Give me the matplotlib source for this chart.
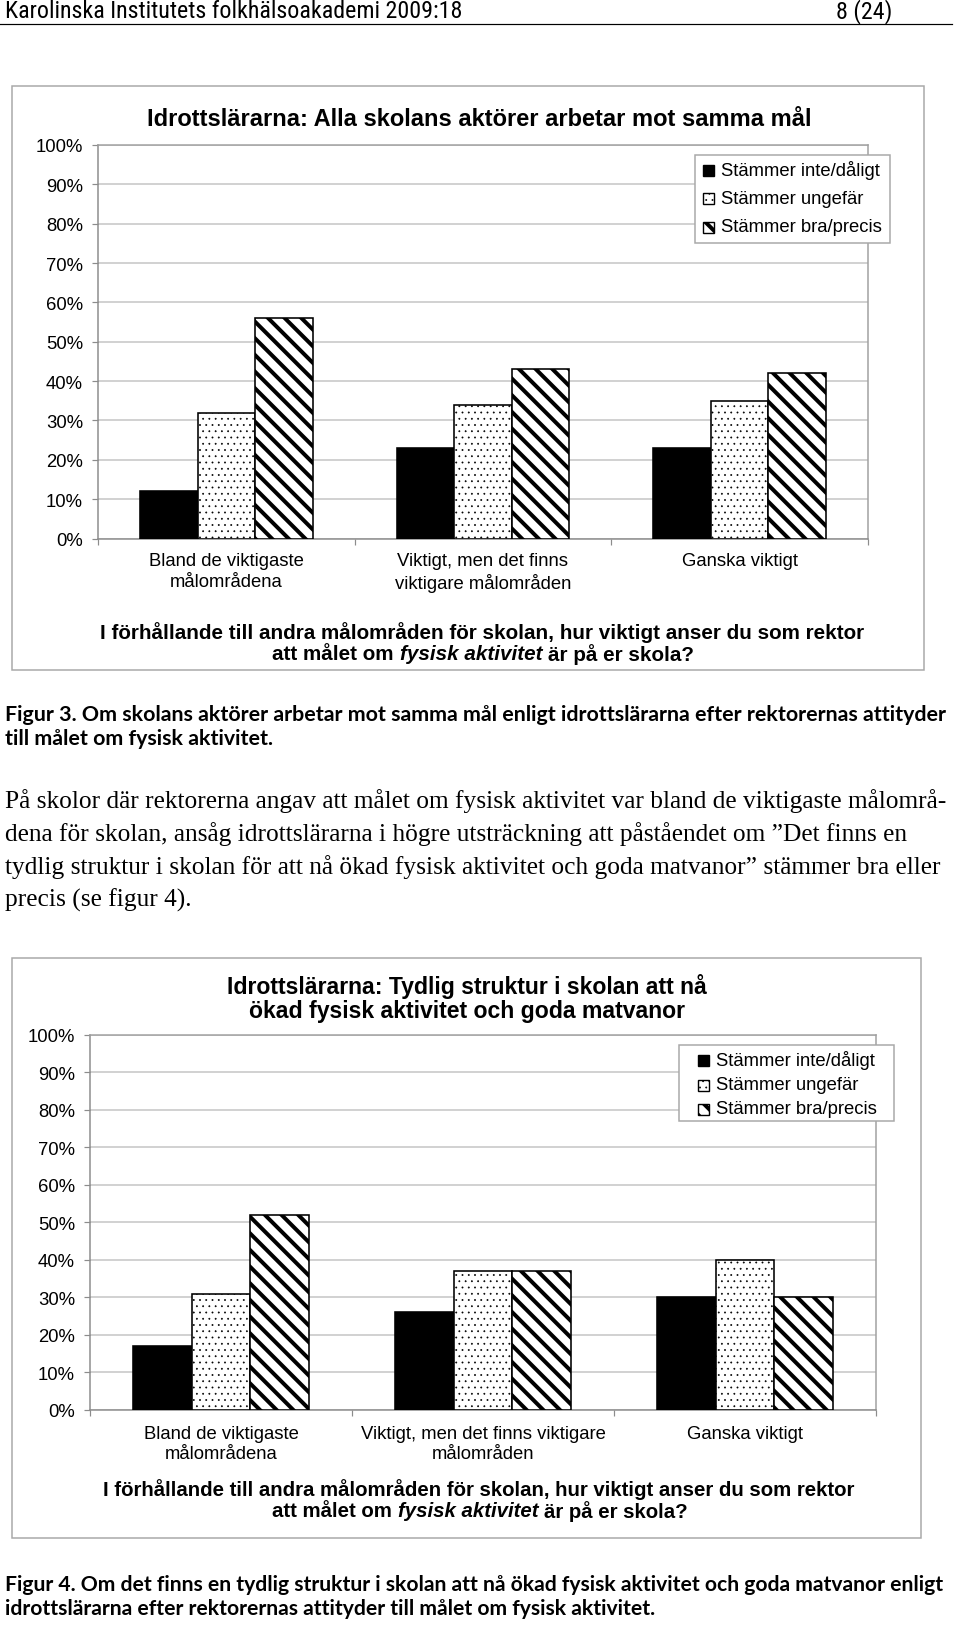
import matplotlib
matplotlib.use("Agg")
import matplotlib.pyplot as plt
from matplotlib import font_manager as fm
from matplotlib.patches import Rectangle
from matplotlib.lines import Line2D
import numpy as np

# ---------------- data ----------------
categories_fig3 = ["Bland de viktigaste\nmålområdena",
                   "Viktigt, men det finns\nviktigare målområden",
                   "Ganska viktigt"]
categories_fig4 = ["Bland de viktigaste\nmålområdena",
                   "Viktigt, men det finns viktigare\nmålområden",
                   "Ganska viktigt"]
series_names = ["Stämmer inte/dåligt", "Stämmer ungefär", "Stämmer bra/precis"]

fig3_inte = [12, 23, 23]
fig3_ungefar = [32, 34, 35]
fig3_bra = [56, 43, 42]

fig4_inte = [17, 26, 30]
fig4_ungefar = [31, 37, 40]
fig4_bra = [52, 37, 30]

ytick_values = [0, 10, 20, 30, 40, 50, 60, 70, 80, 90, 100]
ytick_labels = [f"{v}%" for v in ytick_values]

title_fig3 = "Idrottslärarna: Alla skolans aktörer arbetar mot samma mål"
title_fig4 = ["Idrottslärarna: Tydlig struktur i skolan att nå",
              "ökad fysisk aktivitet och goda matvanor"]
xtitle_line1 = "I förhållande till andra målområden för skolan, hur viktigt anser du som rektor"
xtitle_line2 = ["att målet om", "fysisk aktivitet", "är på er skola?"]

header_left = "Karolinska Institutets folkhälsoakademi 2009:18"
header_right = "8 (24)"
caption3 = ["Figur 3. Om skolans aktörer arbetar mot samma mål enligt idrottslärarna efter rektorernas attityder",
            "till målet om fysisk aktivitet."]
body = ["På skolor där rektorerna angav att målet om fysisk aktivitet var bland de viktigaste målområ-",
        "dena för skolan, ansåg idrottslärarna i högre utsträckning att påståendet om ”Det finns en",
        "tydlig struktur i skolan för att nå ökad fysisk aktivitet och goda matvanor” stämmer bra eller",
        "precis (se figur 4)."]
caption4 = ["Figur 4. Om det finns en tydlig struktur i skolan att nå ökad fysisk aktivitet och goda matvanor enligt",
            "idrottslärarna efter rektorernas attityder till målet om fysisk aktivitet."]

# ---------------- setup ----------------
W, H, DPI = 960, 1627, 150
PT = 72.0 / DPI  # points per pixel

names = {f.name for f in fm.fontManager.ttflist}
def pick(*cands):
    for c in cands:
        if c in names:
            return c
    return "DejaVu Sans"

SANS = pick("Liberation Sans", "Arial", "DejaVu Sans")
NARROW = pick("Liberation Sans Narrow", "Roboto Condensed", "Open Sans Condensed", "Roboto", "Liberation Sans")
CAPF = pick("Lato", "Liberation Sans Narrow", "Liberation Sans")
SERIF = pick("Liberation Serif", "DejaVu Serif")

plt.rcParams["font.family"] = [SANS, "DejaVu Sans"]

fig = plt.figure(figsize=(W / DPI, H / DPI), dpi=DPI)
fig.patch.set_facecolor("white")
R = fig.canvas.get_renderer()

GRID = "#c4c4c4"
AXC = "#8c8c8c"
FRAME = "#a8a8a8"


def fx(x):
    return x / W


def fy(y):
    return 1 - y / H


def tw(s, size, **kw):
    t = fig.text(0, 0, s, fontsize=size, **kw)
    w = t.get_window_extent(renderer=R).width
    t.remove()
    return w


def fit(s, target, **kw):
    return 10.0 * target / tw(s, 10.0, **kw)


def seg_line(segs, y, size, x=None, xc=None):
    widths = [tw(s, size, **kw) for s, kw in segs]
    sp = tw("a a", size, **segs[0][1]) - tw("aa", size, **segs[0][1])
    total = sum(widths) + sp * (len(segs) - 1)
    if xc is not None:
        x = xc - total / 2
    for (s, kw), w in zip(segs, widths):
        fig.text(fx(x), fy(y), s, fontsize=size, ha="left", va="center", **kw)
        x += w + sp


def frame(x0, y0, x1, y1, color=FRAME, lw=1.5):
    fig.add_artist(Rectangle((fx(x0), fy(y1)), (x1 - x0) / W, (y1 - y0) / H,
                             transform=fig.transFigure, facecolor="none",
                             edgecolor=color, linewidth=lw * PT))


STRIPE_LW = 4.0 * PT
DOT_LW = 0.6 * PT


def hatched_patch_kw(kind):
    if kind == 0:
        return dict(facecolor="black", edgecolor="black")
    if kind == 1:
        return dict(facecolor="white", edgecolor="black", hatch="....")
    return dict(facecolor="white", edgecolor="black", hatch="\\\\\\")


def set_hlw(patch, lw):
    if hasattr(patch, "set_hatch_linewidth"):
        patch.set_hatch_linewidth(lw)


def draw_chart(box, cats, inte, ungef, bra, label_pad_px):
    x0, y0, x1, y1 = box
    ax = fig.add_axes([fx(x0), fy(y1), (x1 - x0) / W, (y1 - y0) / H])
    x = np.arange(len(cats))
    w = 0.224
    with plt.rc_context({"hatch.linewidth": 1.0}):
        ax.bar(x - w, inte, w, linewidth=1.6 * PT, zorder=3, **hatched_patch_kw(0))
    with plt.rc_context({"hatch.linewidth": DOT_LW}):
        b2 = ax.bar(x, ungef, w, linewidth=1.6 * PT, zorder=3, **hatched_patch_kw(1))
    for p in b2:
        set_hlw(p, DOT_LW)
    with plt.rc_context({"hatch.linewidth": STRIPE_LW}):
        b3 = ax.bar(x + w, bra, w, linewidth=1.6 * PT, zorder=3, **hatched_patch_kw(2))
    for p in b3:
        set_hlw(p, STRIPE_LW)

    ax.set_xlim(-0.5, len(cats) - 0.5)
    ax.set_ylim(0, 100)
    ax.set_yticks(ytick_values)
    ax.set_yticklabels(ytick_labels, fontsize=8.9)
    ax.yaxis.grid(True, color=GRID, linewidth=1.5 * PT, zorder=0)
    ax.set_axisbelow(True)
    ax.set_xticks(np.arange(len(cats) + 1) - 0.5)
    ax.set_xticklabels([])
    ax.set_xticks(np.arange(len(cats)), minor=True)
    ax.set_xticklabels(cats, minor=True, fontsize=8.9, linespacing=1.25)
    ax.tick_params(axis="x", which="minor", length=0, pad=label_pad_px * PT)
    ax.tick_params(axis="x", which="major", length=6 * PT, width=1.2 * PT, color=AXC, direction="out")
    ax.tick_params(axis="y", length=6 * PT, width=1.2 * PT, color=AXC, pad=9 * PT, labelcolor="black")
    for s in ["left", "bottom", "right", "top"]:
        ax.spines[s].set_color(AXC)
        ax.spines[s].set_linewidth(1.5 * PT)
    ax.spines["top"].set_color("#a0a0a0")
    ax.spines["right"].set_color("#a0a0a0")
    ax.set_facecolor("white")
    return ax


def legend(x0, y0, x1, y1, rows_y, text_x, mark_x):
    fig.add_artist(Rectangle((fx(x0), fy(y1)), (x1 - x0) / W, (y1 - y0) / H,
                             transform=fig.transFigure, facecolor="white",
                             edgecolor="#a8a8a8", linewidth=1.5 * PT, zorder=5))
    for i, (name, ry) in enumerate(zip(series_names, rows_y)):
        kw = hatched_patch_kw(i)
        lwh = STRIPE_LW if i == 2 else DOT_LW
        with plt.rc_context({"hatch.linewidth": lwh}):
            r = Rectangle((fx(mark_x), fy(ry + 5.5)), 11 / W, 11 / H, transform=fig.transFigure,
                          linewidth=1.4 * PT, zorder=6, **kw)
        set_hlw(r, lwh)
        fig.add_artist(r)
        fig.text(fx(text_x), fy(ry), name, fontsize=8.9, ha="left", va="center", zorder=6)


# ---------------- page header ----------------
hs = fit(header_left, 459, family=NARROW)
fig.text(fx(5), fy(12), header_left, fontsize=hs, family=NARROW, ha="left", va="center")
fig.text(fx(892), fy(12), header_right, fontsize=hs, family=NARROW, ha="right", va="center")
fig.add_artist(Line2D([0, fx(952)], [fy(25), fy(25)], transform=fig.transFigure,
                      color="black", linewidth=1.2 * PT))

# ---------------- chart 1 (Figur 3) ----------------
frame(12, 87, 924, 671)
draw_chart((98, 146, 868, 539.5), categories_fig3, fig3_inte, fig3_ungefar, fig3_bra, 14)
ts = fit(title_fig3, 666, fontweight="bold")
fig.text(fx(479), fy(119), title_fig3, fontsize=ts, fontweight="bold", ha="center", va="center")
xs = fit(xtitle_line1, 765, fontweight="bold")
fig.text(fx(482), fy(633), xtitle_line1, fontsize=xs, fontweight="bold", ha="center", va="center")
seg_line([(xtitle_line2[0], dict(fontweight="bold")),
          (xtitle_line2[1], dict(fontweight="bold", fontstyle="italic")),
          (xtitle_line2[2], dict(fontweight="bold"))], 655, xs, xc=483)
legend(695, 156, 890, 244, [171, 199.5, 228], 721, 703)

# ---------------- caption 3 + body ----------------
cs = fit(caption3[0], 942, family=CAPF, fontweight="bold")
fig.text(fx(5), fy(715), caption3[0], fontsize=cs, family=CAPF, fontweight="bold", ha="left", va="center")
fig.text(fx(5), fy(739), caption3[1], fontsize=cs, family=CAPF, fontweight="bold", ha="left", va="center")

bs = fit(body[0], 949, family=SERIF)
for line, yy in zip(body, [801, 834, 867, 900]):
    fig.text(fx(5), fy(yy), line, fontsize=bs, family=SERIF, ha="left", va="center")

# ---------------- chart 2 (Figur 4) ----------------
frame(12, 959, 921, 1539)
draw_chart((90, 1036, 876, 1410.8), categories_fig4, fig4_inte, fig4_ungefar, fig4_bra, 15)
t2s = fit(title_fig4[0], 484, fontweight="bold")
fig.text(fx(467), fy(987), title_fig4[0], fontsize=t2s, fontweight="bold", ha="center", va="center")
fig.text(fx(467), fy(1012), title_fig4[1], fontsize=t2s, fontweight="bold", ha="center", va="center")
x2s = fit(xtitle_line1, 758, fontweight="bold")
fig.text(fx(479), fy(1490), xtitle_line1, fontsize=x2s, fontweight="bold", ha="center", va="center")
seg_line([(xtitle_line2[0], dict(fontweight="bold")),
          (xtitle_line2[1], dict(fontweight="bold", fontstyle="italic")),
          (xtitle_line2[2], dict(fontweight="bold"))], 1512, x2s, xc=480)
legend(679, 1046, 894, 1122, [1061, 1086, 1110], 716, 698)

# ---------------- caption 4 ----------------
c4s = fit(caption4[0], 944, family=CAPF, fontweight="bold")
fig.text(fx(5), fy(1585), caption4[0], fontsize=c4s, family=CAPF, fontweight="bold", ha="left", va="center")
fig.text(fx(5), fy(1609), caption4[1], fontsize=c4s, family=CAPF, fontweight="bold", ha="left", va="center")

fig.savefig("out.png", dpi=DPI, facecolor="white")
